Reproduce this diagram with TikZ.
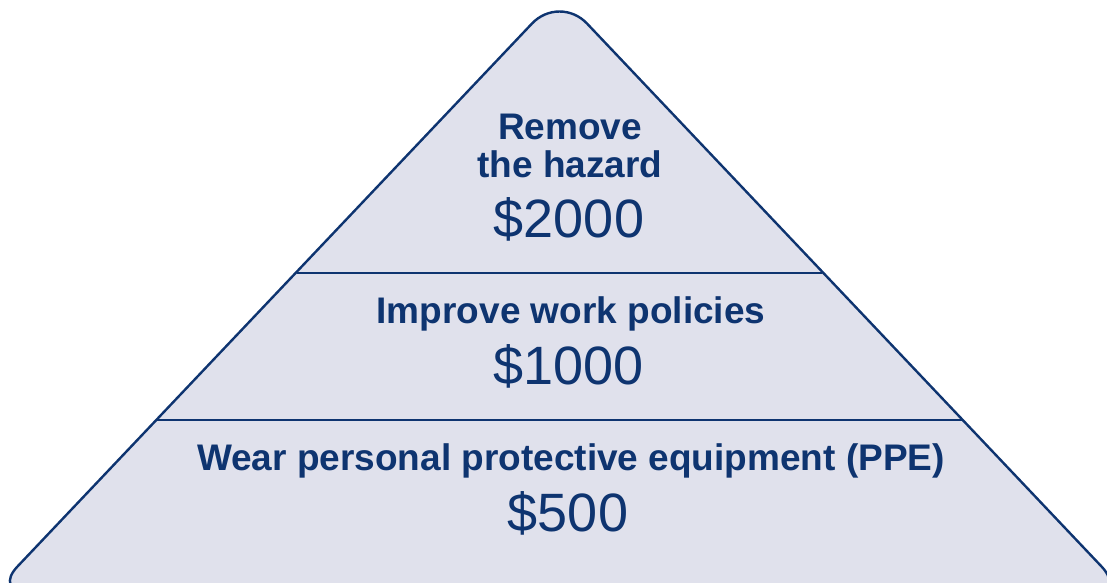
\documentclass[tikz,border=0pt]{standalone}
\usepackage{fontspec}
\setmainfont{Liberation Sans}
\usepackage{tikz}

\definecolor{pyrfill}{RGB}{224,225,236}
\definecolor{pyrline}{RGB}{14,52,112}

\tikzset{
  tiertitle/.style={font=\fontsize{37}{38}\selectfont\bfseries, text=pyrline, anchor=base, inner sep=0pt, align=center},
  tiercost/.style={font=\fontsize{54}{54}\selectfont, text=pyrline, anchor=base, inner sep=0pt}
}

\begin{document}
\begin{tikzpicture}[x=1pt,y=-1pt]
\useasboundingbox (0,0) rectangle (1107,582);

\coordinate (apex) at (559.5,-5.5);
\coordinate (bl) at (-6.7,592);
\coordinate (bm) at (559.5,592);
\coordinate (br) at (1125.7,592);
\coordinate (l1) at (297,273);
\coordinate (r1) at (822,273);
\coordinate (l2) at (157,420);
\coordinate (r2) at (962,420);

\draw[pyrline, fill=pyrfill, line width=2.4pt]
  (bm) [rounded corners=35pt] -- (bl) [rounded corners=40pt] -- (apex) [rounded corners=35pt] -- (br) -- cycle;
\draw[pyrline, line width=2.4pt] (l1) -- (r1);
\draw[pyrline, line width=2.4pt] (l2) -- (r2);

\node[tiertitle] (remove) at (570,139) {Remove};
\node[tiertitle] (hazard) at (570,177) {the hazard};
\node[tiercost] (cost1) at (569,237) {\$2000};
\node[tiertitle] (policies) at (571,323) {Improve work policies};
\node[tiercost] (cost2) at (568.5,384) {\$1000};
\node[tiertitle] (ppe) at (571,470.5) {Wear personal protective equipment (PPE)};
\node[tiercost] (cost3) at (568,531) {\$500};
\end{tikzpicture}
\end{document}
